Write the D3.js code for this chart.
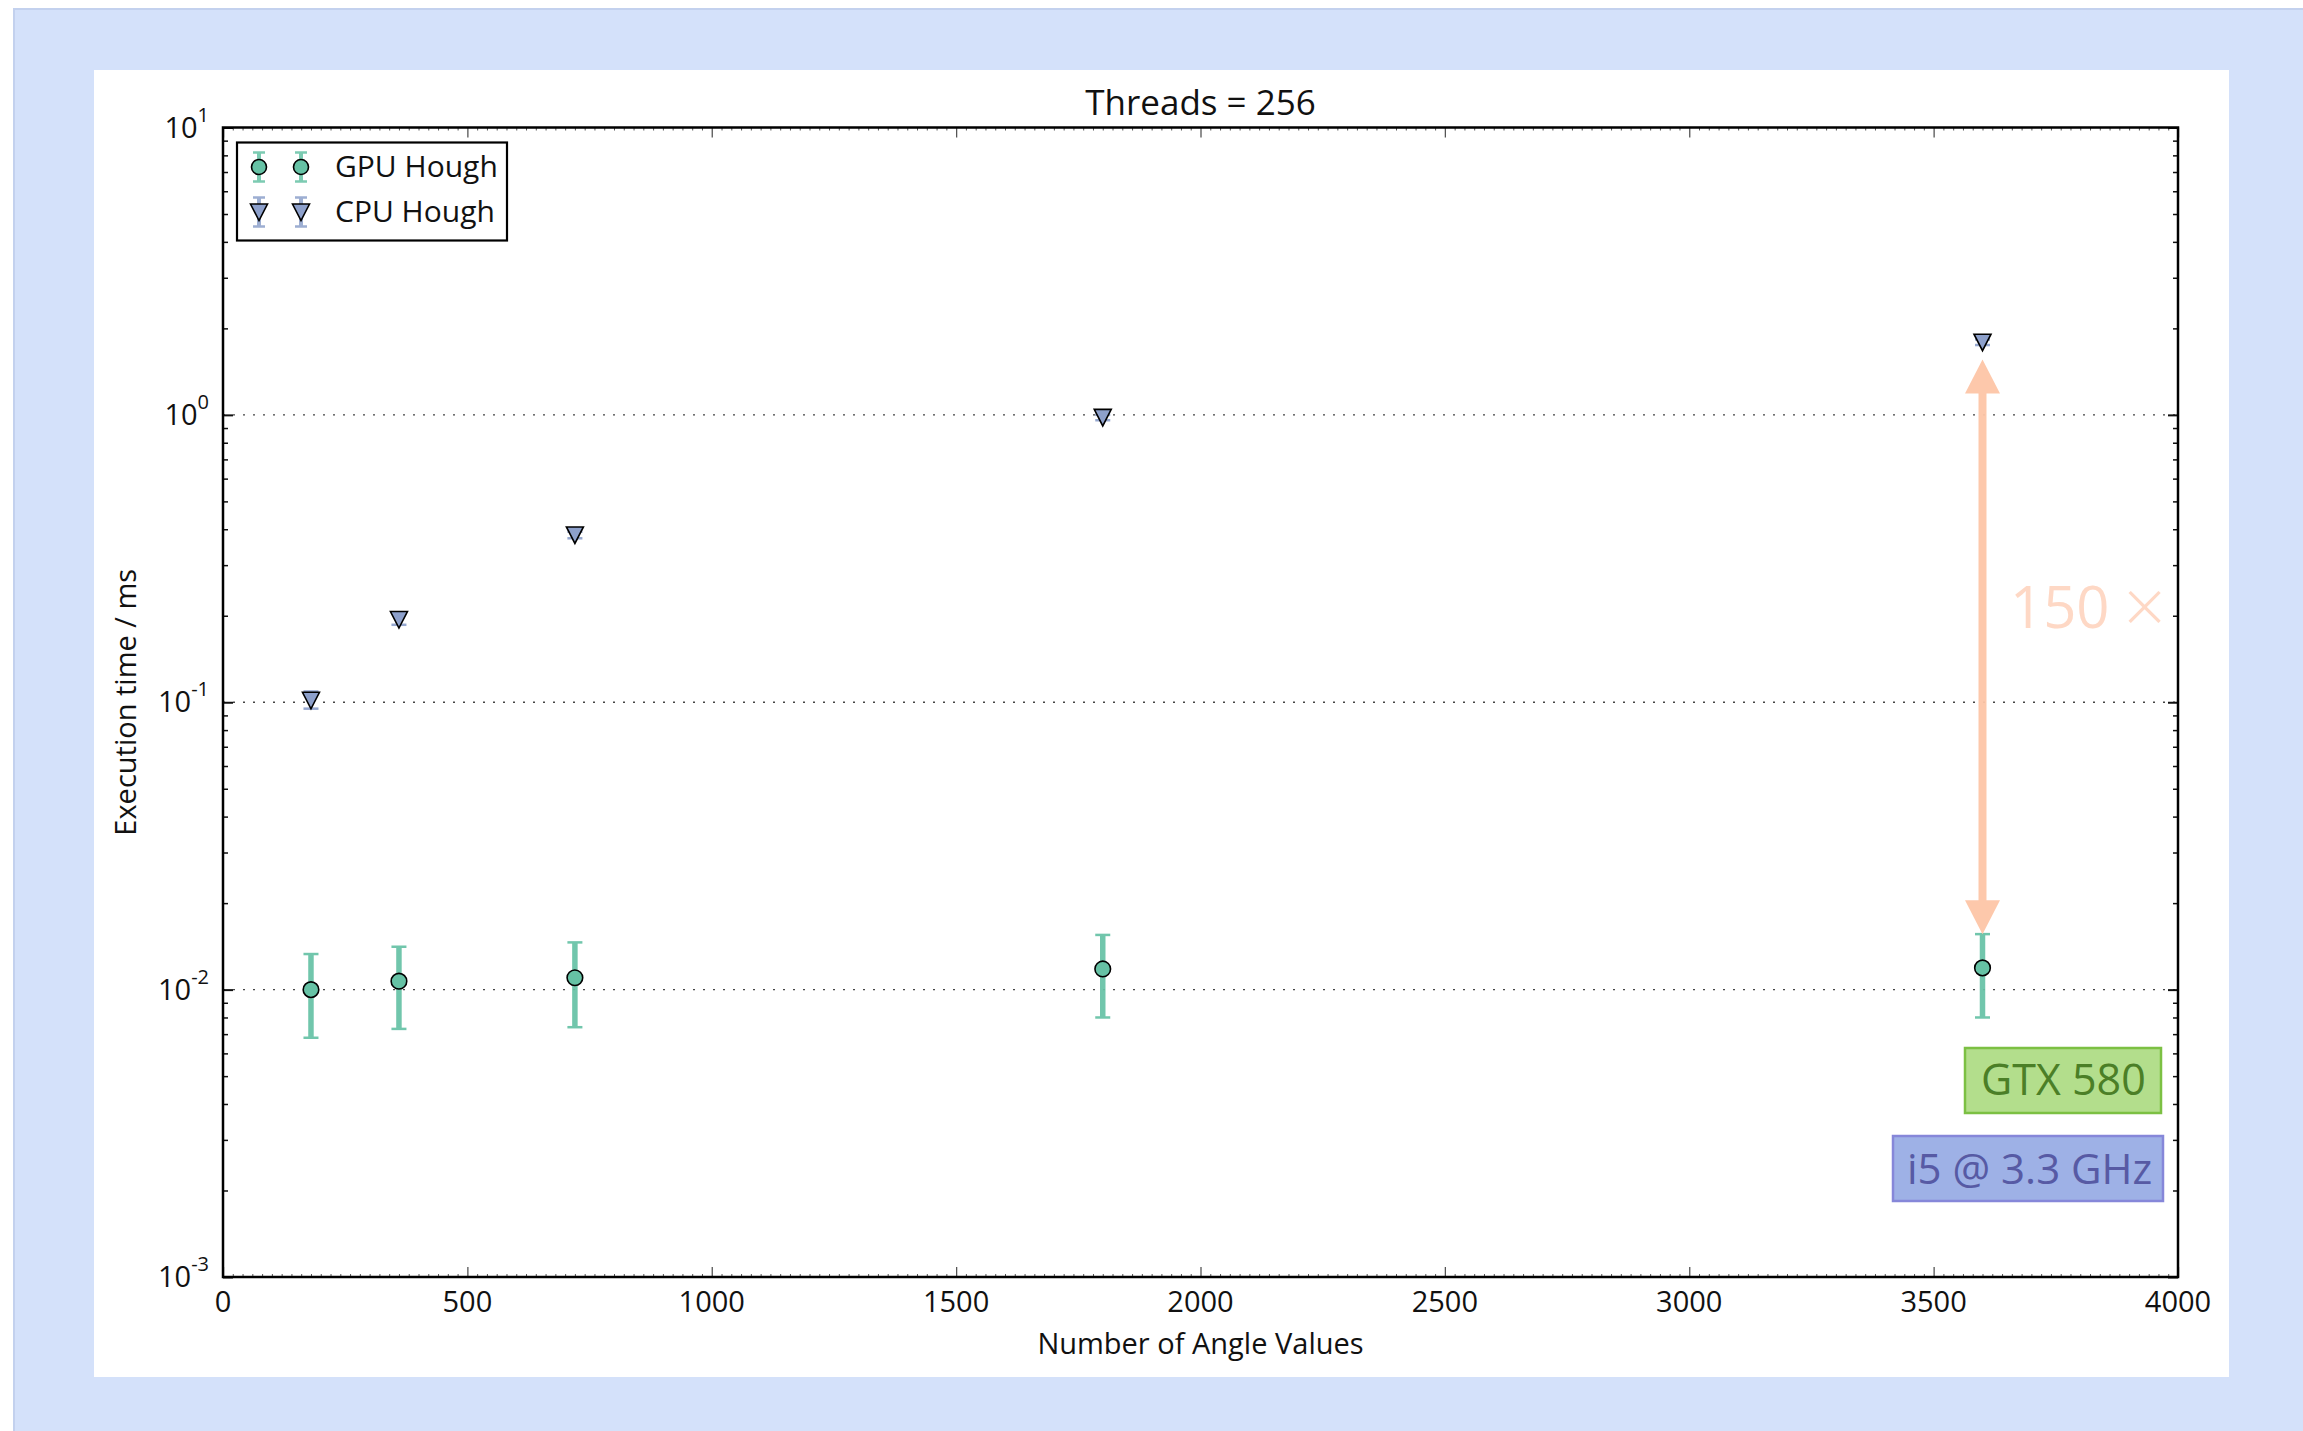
<!DOCTYPE html>
<html>
<head>
<meta charset="utf-8">
<script src="https://cdn.jsdelivr.net/npm/d3@7"></script>
<style>
  html, body { margin: 0; padding: 0; background: #ffffff; }
  svg { display: block; font-family: "Open Sans", "DejaVu Sans", sans-serif; }
</style>
</head>
<body>
<svg id="chart" width="2303" height="1431"></svg>
<script>
// Execution time of the Hough transform, GPU vs CPU, 256 threads
const angleValues = [180, 360, 720, 1800, 3600];

const gpuTime = [0.0100, 0.0107, 0.0110, 0.0118, 0.0119];
const gpuLow  = [0.0068, 0.0073, 0.0074, 0.0080, 0.0080];
const gpuHigh = [0.0133, 0.0141, 0.0146, 0.0155, 0.0156];

const cpuTime = [0.1016, 0.194, 0.382, 0.98, 1.79];
const cpuLow  = [0.095, 0.186, 0.372, 0.958, 1.75];
const cpuHigh = [0.109, 0.203, 0.392, 1.00, 1.83];

const xTicks = [0, 500, 1000, 1500, 2000, 2500, 3000, 3500, 4000];
const yExponents = [-3, -2, -1, 0, 1];
const gridExponents = [-2, -1, 0];

const seriesNames = ["GPU Hough", "CPU Hough"];
const speedupLabel = "150";
const speedupSign = "\u00d7";
const speedupFrom = 0.0156;   // arrow ends (ms)
const speedupTo = 1.56;
const speedupAt = 3600;
const hardwareLabels = ["GTX 580", "i5 @ 3.3 GHz"];

const GPU_COLOR = "#66c2a5";
const CPU_COLOR = "#8da0cb";

const svg = d3.select("#chart");

// page frame
svg.append("rect").attr("x", 14).attr("y", 9).attr("width", 2303).attr("height", 1431)
  .attr("fill", "#d4e1fa").attr("stroke", "#c3d1ee").attr("stroke-width", 2);
svg.append("rect").attr("x", 94).attr("y", 70).attr("width", 2135).attr("height", 1307)
  .attr("fill", "#ffffff");

const L = 223, R = 2178, T = 127.5, B = 1277;
const x = d3.scaleLinear().domain([0, 4000]).range([L, R]);
const y = d3.scaleLog().domain([1e-3, 1e1]).range([B, T]);

const g = svg.append("g");

// dotted horizontal grid at decades
g.selectAll("line.grid").data(gridExponents).join("line")
  .attr("class", "grid")
  .attr("x1", L).attr("x2", R)
  .attr("y1", d => y(Math.pow(10, d))).attr("y2", d => y(Math.pow(10, d)))
  .attr("stroke", "#444").attr("stroke-width", 1.3).attr("stroke-dasharray", "2,8");

// axes built with d3 axis generators (ticks pointing inward)
const xMinor = d3.range(0, 4001, 20).filter(v => v % 500 !== 0);
const yMinor = [];
for (let e = -3; e < 1; e++) for (let k = 2; k <= 9; k++) yMinor.push(k * Math.pow(10, e));

function styleAxis(sel, color, width) {
  sel.select(".domain").remove();
  sel.selectAll("line").attr("stroke", color).attr("stroke-width", width);
  sel.selectAll("text").remove();
}

// bottom / top minor and major ticks
g.append("g").attr("transform", `translate(0,${B})`)
  .call(d3.axisTop(x).tickValues(xMinor).tickSize(3)).call(s => styleAxis(s, "#555", 1));
g.append("g").attr("transform", `translate(0,${T})`)
  .call(d3.axisBottom(x).tickValues(xMinor).tickSize(3)).call(s => styleAxis(s, "#555", 1));
g.append("g").attr("transform", `translate(0,${B})`)
  .call(d3.axisTop(x).tickValues(xTicks).tickSize(10)).call(s => styleAxis(s, "#555", 1.3));
g.append("g").attr("transform", `translate(0,${T})`)
  .call(d3.axisBottom(x).tickValues(xTicks).tickSize(10)).call(s => styleAxis(s, "#555", 1.3));

// left / right log ticks
const yMajorVals = yExponents.map(e => Math.pow(10, e));
[[L, d3.axisRight], [R, d3.axisLeft]].forEach(([pos, gen]) => {
  g.append("g").attr("transform", `translate(${pos},0)`)
    .call(gen(y).tickValues(yMinor).tickSize(5)).call(s => styleAxis(s, "#111", 1.5));
  g.append("g").attr("transform", `translate(${pos},0)`)
    .call(gen(y).tickValues(yMajorVals).tickSize(10)).call(s => styleAxis(s, "#111", 2));
});

// spines
g.append("rect").attr("x", L).attr("y", T).attr("width", R - L).attr("height", B - T)
  .attr("fill", "none").attr("stroke", "#000").attr("stroke-width", 2.5);

// tick labels
g.selectAll("text.xt").data(xTicks).join("text")
  .attr("class", "xt")
  .attr("x", d => x(d)).attr("y", B + 35)
  .attr("text-anchor", "middle").attr("font-size", 29).attr("fill", "#111")
  .text(d => d);

const yl = g.selectAll("text.yt").data(yExponents).join("text")
  .attr("class", "yt")
  .attr("x", 209).attr("y", d => y(Math.pow(10, d)) + 10)
  .attr("text-anchor", "end").attr("font-size", 29).attr("fill", "#111");
yl.append("tspan").text("10");
yl.append("tspan").attr("dy", -16).attr("font-size", 20).text(d => String(d));

// axis titles
svg.append("text").attr("x", (L + R) / 2).attr("y", 1354)
  .attr("text-anchor", "middle").attr("font-size", 29).attr("fill", "#111")
  .text("Number of Angle Values");
svg.append("text").attr("transform", `translate(136,${(T + B) / 2}) rotate(-90)`)
  .attr("text-anchor", "middle").attr("font-size", 29).attr("fill", "#111")
  .text("Execution time / ms");
svg.append("text").attr("x", (L + R) / 2).attr("y", 115)
  .attr("text-anchor", "middle").attr("font-size", 35).attr("fill", "#111")
  .text("Threads = 256");

// error bars
function errorBars(sel, xs, lo, hi, color, width) {
  const d = xs.map((v, i) => ({ x: v, lo: lo[i], hi: hi[i] }));
  const eg = sel.append("g").attr("stroke", color).attr("opacity", 0.92);
  eg.selectAll("line.stem").data(d).join("line")
    .attr("x1", p => x(p.x)).attr("x2", p => x(p.x))
    .attr("y1", p => y(p.lo)).attr("y2", p => y(p.hi)).attr("stroke-width", width);
  eg.selectAll("line.caplo").data(d).join("line")
    .attr("x1", p => x(p.x) - 7.5).attr("x2", p => x(p.x) + 7.5)
    .attr("y1", p => y(p.lo)).attr("y2", p => y(p.lo)).attr("stroke-width", 2.5);
  eg.selectAll("line.caphi").data(d).join("line")
    .attr("x1", p => x(p.x) - 7.5).attr("x2", p => x(p.x) + 7.5)
    .attr("y1", p => y(p.hi)).attr("y2", p => y(p.hi)).attr("stroke-width", 2.5);
}
errorBars(g, angleValues, gpuLow, gpuHigh, GPU_COLOR, 5.5);
errorBars(g, angleValues, cpuLow, cpuHigh, CPU_COLOR, 3);

const triDown = "M-8.5,-8L8.5,-8L0,8.5Z";

g.selectAll("circle.gpu").data(angleValues).join("circle")
  .attr("class", "gpu")
  .attr("cx", d => x(d)).attr("cy", (d, i) => y(gpuTime[i])).attr("r", 7.8)
  .attr("fill", GPU_COLOR).attr("stroke", "#000").attr("stroke-width", 1.6);

g.selectAll("path.cpu").data(angleValues).join("path")
  .attr("class", "cpu").attr("d", triDown)
  .attr("transform", (d, i) => `translate(${x(d)},${y(cpuTime[i])})`)
  .attr("fill", CPU_COLOR).attr("stroke", "#000").attr("stroke-width", 1.6);

// speed-up arrow
const ax = x(speedupAt), y1 = y(speedupFrom), y2 = y(speedupTo);
const headL = 34, headW = 17.5, shaft = 4;
const arrowPath = [
  `M${ax},${y2}`, `L${ax + headW},${y2 + headL}`, `L${ax + shaft},${y2 + headL}`,
  `L${ax + shaft},${y1 - headL}`, `L${ax + headW},${y1 - headL}`, `L${ax},${y1}`,
  `L${ax - headW},${y1 - headL}`, `L${ax - shaft},${y1 - headL}`,
  `L${ax - shaft},${y2 + headL}`, `L${ax - headW},${y2 + headL}`, "Z"
].join("");
g.append("path").attr("d", arrowPath).attr("fill", "#fdc5a6").attr("opacity", 0.95);
const sp = g.append("text").attr("x", 2010).attr("y", 628)
  .attr("font-size", 58).attr("fill", "#fed8c5");
sp.append("tspan").text(speedupLabel);
sp.append("tspan").attr("dx", 14).attr("dy", 5).attr("font-size", 74).attr("font-weight", 300).text(speedupSign);

// hardware labels
const hw = [
  { text: hardwareLabels[0], x: 1965, y: 1048, w: 196, h: 65, fill: "#b3de8c", edge: "#7cc043", ink: "#4b7f27", tx: 1981, ty: 1095, fs: 43 },
  { text: hardwareLabels[1], x: 1893, y: 1136, w: 270, h: 65, fill: "#9eb1e6", edge: "#8687d9", ink: "#575aa4", tx: 1907, ty: 1184, fs: 42 }
];
hw.forEach(b => {
  g.append("rect").attr("x", b.x).attr("y", b.y).attr("width", b.w).attr("height", b.h)
    .attr("fill", b.fill).attr("stroke", b.edge).attr("stroke-width", 2.5);
  g.append("text").attr("x", b.tx).attr("y", b.ty).attr("font-size", b.fs)
    .attr("fill", b.ink).text(b.text);
});

// legend
const lg = svg.append("g");
lg.append("rect").attr("x", 237).attr("y", 142.5).attr("width", 270).attr("height", 98)
  .attr("fill", "#fff").attr("stroke", "#000").attr("stroke-width", 2.2);
const rows = [
  { name: seriesNames[0], color: GPU_COLOR, cy: 167, shape: "circle", base: 177 },
  { name: seriesNames[1], color: CPU_COLOR, cy: 212, shape: "tri", base: 222 }
];
rows.forEach(r => {
  [259, 301].forEach(mx => {
    const eg = lg.append("g").attr("stroke", r.color).attr("opacity", 0.85);
    eg.append("line").attr("x1", mx).attr("x2", mx).attr("y1", r.cy - 14.5).attr("y2", r.cy + 14.5).attr("stroke-width", 4);
    eg.append("line").attr("x1", mx - 6).attr("x2", mx + 6).attr("y1", r.cy - 14.5).attr("y2", r.cy - 14.5).attr("stroke-width", 2.5);
    eg.append("line").attr("x1", mx - 6).attr("x2", mx + 6).attr("y1", r.cy + 14.5).attr("y2", r.cy + 14.5).attr("stroke-width", 2.5);
    if (r.shape === "circle") {
      lg.append("circle").attr("cx", mx).attr("cy", r.cy).attr("r", 7.5)
        .attr("fill", r.color).attr("stroke", "#000").attr("stroke-width", 1.6);
    } else {
      lg.append("path").attr("d", triDown).attr("transform", `translate(${mx},${r.cy})`)
        .attr("fill", r.color).attr("stroke", "#000").attr("stroke-width", 1.6);
    }
  });
  lg.append("text").attr("x", 335).attr("y", r.base).attr("font-size", 30).attr("fill", "#111").text(r.name);
});
</script>
</body>
</html>
